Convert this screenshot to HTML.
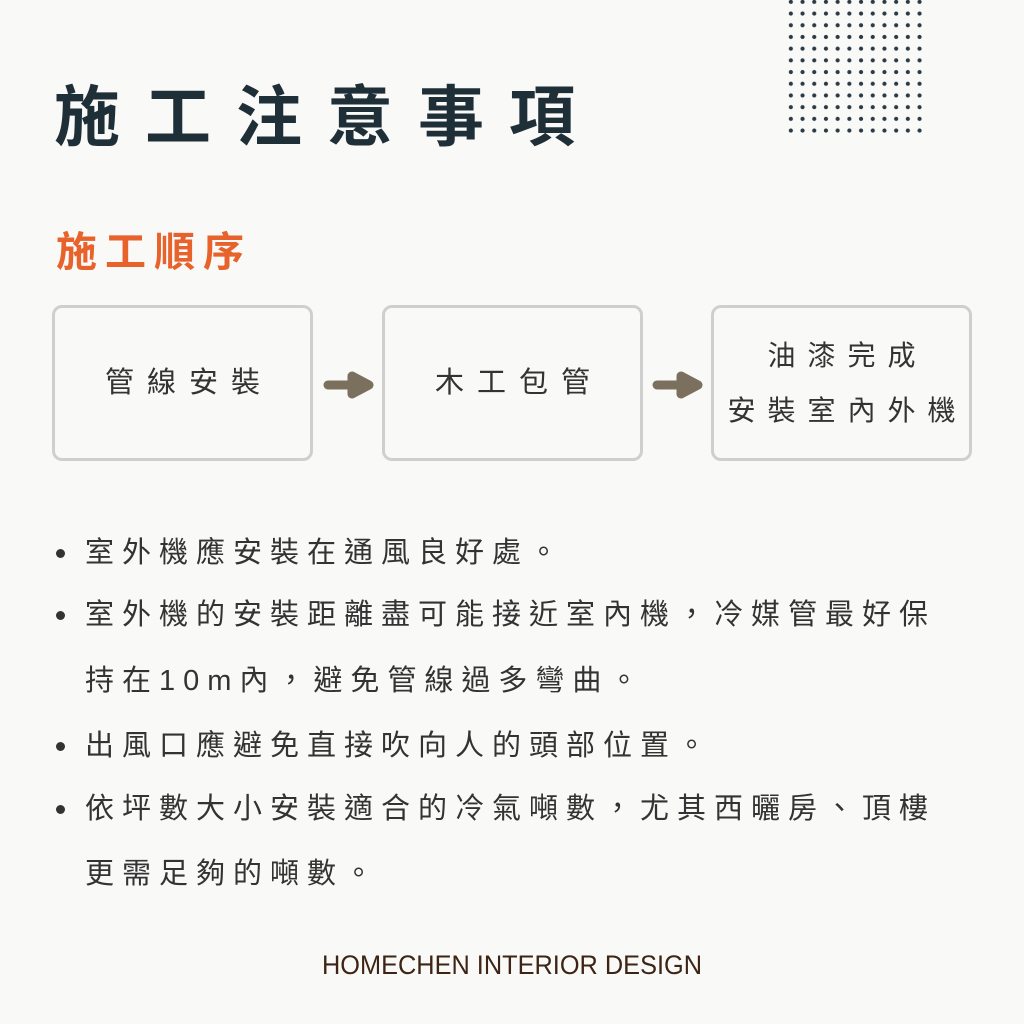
<!DOCTYPE html>
<html><head><meta charset="utf-8"><style>
*{margin:0;padding:0;box-sizing:border-box}
body{width:1024px;height:1024px;background:#f9f9f8;position:relative;overflow:hidden;font-family:"Liberation Sans","Noto Sans CJK TC",sans-serif}
.a{position:absolute;white-space:nowrap}
.t{left:54px;top:77px;font-size:66px;font-weight:bold;color:#1f2f38;letter-spacing:25px;line-height:80px}
.s{left:56px;top:227px;font-size:41px;font-weight:bold;color:#e8622c;letter-spacing:8px;line-height:50px}
.b{position:absolute;top:305px;width:261px;height:156px;border:3px solid #cfcfcf;border-radius:10px;display:flex;align-items:center;justify-content:center;text-align:center;font-size:29px;letter-spacing:13px;color:#333;line-height:55px;padding-left:13px;white-space:nowrap}
.l{left:85px;font-size:29px;color:#333;letter-spacing:8px;line-height:40px}
.d{position:absolute;left:56px;width:9px;height:9px;border-radius:50%;background:#333}
</style></head><body>
<svg class="a" style="left:0;top:0" width="1024" height="150">
<defs><pattern id="p" x="785" y="-4" width="11.7" height="11.7" patternUnits="userSpaceOnUse"><circle cx="5.85" cy="5.85" r="2.1" fill="#2c3a44"/></pattern></defs>
<rect x="785" y="-4" width="140.4" height="140.4" fill="url(#p)"/>
</svg>
<div class="a t">施工注意事項</div>
<div class="a s">施工順序</div>
<div class="b" style="left:52px">管線安裝</div>
<div class="b" style="left:382px">木工包管</div>
<div class="b" style="left:711px;font-size:28px;letter-spacing:12px;padding-left:12px">油漆完成<br>安裝室內外機</div>
<svg class="a" style="left:0;top:360" width="1024" height="50">
<path d="M328 25 H352 M352 16 L369 25 L352 34 Z" stroke="#7b6f5e" stroke-width="9" stroke-linejoin="round" stroke-linecap="round" fill="#7b6f5e"/>
<path d="M657 25 H681 M681 16 L698 25 L681 34 Z" stroke="#7b6f5e" stroke-width="9" stroke-linejoin="round" stroke-linecap="round" fill="#7b6f5e"/>
</svg>
<div class="d" style="top:549px"></div>
<div class="d" style="top:611px"></div>
<div class="d" style="top:742px"></div>
<div class="d" style="top:805px"></div>
<div class="a l" style="top:533px">室外機應安裝在通風良好處。</div>
<div class="a l" style="top:595px">室外機的安裝距離盡可能接近室內機，冷媒管最好保</div>
<div class="a l" style="top:661px">持在10m內，避免管線過多彎曲。</div>
<div class="a l" style="top:726px">出風口應避免直接吹向人的頭部位置。</div>
<div class="a l" style="top:789px">依坪數大小安裝適合的冷氣噸數，尤其西曬房、頂樓</div>
<div class="a l" style="top:854px">更需足夠的噸數。</div>
<svg class="a" style="left:0;top:940" width="1024" height="50">
<text x="322" y="34" font-size="27" fill="#3d2414" textLength="380" lengthAdjust="spacingAndGlyphs" font-family="Liberation Sans, sans-serif">HOMECHEN INTERIOR DESIGN</text>
</svg>
</body></html>
